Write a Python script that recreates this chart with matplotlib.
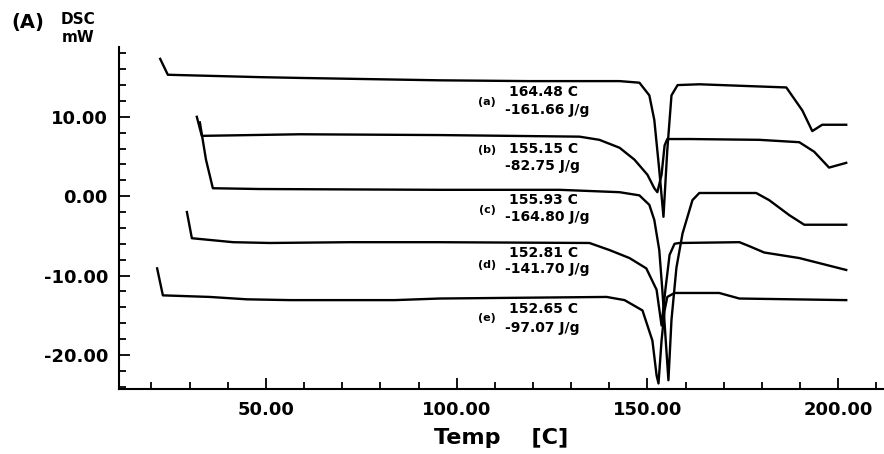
import matplotlib
matplotlib.use('Agg')
import matplotlib.pyplot as plt
from matplotlib.ticker import MultipleLocator, FormatStrFormatter

plt.rcParams['font.family'] = ['DejaVu Sans']
plt.rcParams['font.weight'] = 'bold'

# curves: temperature (C) and heat flow (mW)
temp_a = [22.3, 24.3, 48.4, 58.9, 95.5, 119.1, 142.7, 147.9, 150.5, 151.8, 153.1, 154.2,
          155.2, 156.3, 157.9, 163.6, 186.4, 190.6, 193.2, 195.8, 202.1]
dsc_a = [17.3, 15.3, 15.0, 14.9, 14.6, 14.5, 14.5, 14.3, 12.7, 9.6, 3.3, -2.6,
         5.8, 12.7, 14.0, 14.1, 13.7, 10.8, 8.2, 9.0, 9.0]

temp_b = [31.9, 33.2, 58.9, 95.5, 132.2, 137.4, 142.7, 146.6, 150.0, 151.8, 152.6, 153.7,
          154.5, 155.2, 161.0, 179.3, 189.8, 193.7, 197.6, 202.1]
dsc_b = [10.0, 7.6, 7.8, 7.7, 7.5, 7.1, 6.1, 4.6, 2.7, 1.0, 0.5, 2.7,
         6.4, 7.2, 7.2, 7.1, 6.8, 5.6, 3.6, 4.2]

temp_c = [32.7, 34.3, 36.1, 48.4, 95.5, 127.0, 142.7, 147.9, 150.5, 151.8, 153.1, 153.9,
          154.7, 155.5, 156.3, 157.6, 159.2, 161.8, 163.6, 178.5, 181.9, 187.2, 191.1, 202.1]
dsc_c = [9.3, 4.6, 1.0, 0.9, 0.8, 0.8, 0.5, 0.1, -1.1, -3.0, -6.8, -11.8,
         -17.5, -23.2, -15.6, -9.0, -4.7, -0.5, 0.4, 0.4, -0.5, -2.4, -3.6, -3.6]

temp_d = [29.3, 30.6, 41.4, 51.0, 72.0, 94.8, 134.8, 140.1, 145.3, 149.7, 152.4, 153.7,
          154.7, 155.8, 157.1, 158.4, 174.1, 176.7, 180.6, 189.8, 202.1]
dsc_d = [-2.0, -5.3, -5.8, -5.9, -5.8, -5.8, -5.9, -6.8, -7.8, -9.1, -11.8, -16.3,
         -11.8, -7.4, -6.0, -5.9, -5.8, -6.3, -7.1, -7.8, -9.3]

temp_e = [21.5, 23.0, 35.3, 45.0, 56.3, 83.8, 95.5, 139.3, 144.0, 148.7, 151.3, 152.4,
          152.9, 153.7, 154.5, 155.2, 157.1, 168.8, 174.1, 202.1]
dsc_e = [-9.1, -12.5, -12.7, -13.0, -13.1, -13.1, -12.9, -12.7, -13.1, -14.4, -18.2, -22.6,
         -23.6, -18.2, -14.4, -12.7, -12.2, -12.2, -12.9, -13.1]

tags = ['(a)', '(b)', '(c)', '(d)', '(e)']
peaks = ['164.48 C', '155.15 C', '155.93 C', '152.81 C', '152.65 C']
enthalpies = ['-161.66 J/g', '-82.75 J/g', '-164.80 J/g', '-141.70 J/g', '-97.07 J/g']
tag_y = [11.9, 5.8, -1.8, -8.7, -15.4]
peak_y = [13.1, 6.0, -0.5, -7.2, -14.2]
en_y = [10.8, 3.8, -2.6, -9.2, -16.6]

fig = plt.figure(figsize=(8.84, 4.54), dpi=100)
ax = fig.add_axes([0.1346, 0.1432, 0.8654, 0.7533])

for t, d in [(temp_a, dsc_a), (temp_b, dsc_b), (temp_c, dsc_c), (temp_d, dsc_d), (temp_e, dsc_e)]:
    ax.plot(t, d, color='black', lw=1.7)

for i in range(len(tags)):
    ax.text(108.0, tag_y[i], tags[i], fontsize=8, ha='center', va='center')
    ax.text(113.8, peak_y[i], peaks[i], fontsize=10, ha='left', va='center')
    ax.text(112.8, en_y[i], enthalpies[i], fontsize=10, ha='left', va='center')

ax.set_xlim(11.5, 212)
ax.set_ylim(-24.3, 18.8)
ax.xaxis.set_major_locator(MultipleLocator(50))
ax.xaxis.set_minor_locator(MultipleLocator(10))
ax.yaxis.set_major_locator(MultipleLocator(10))
ax.yaxis.set_minor_locator(MultipleLocator(2))
ax.xaxis.set_major_formatter(FormatStrFormatter('%.2f'))
ax.yaxis.set_major_formatter(FormatStrFormatter('%.2f'))
ax.tick_params(which='both', direction='in', width=1.3, labelsize=13)
ax.tick_params(axis='y', pad=8)
ax.tick_params(axis='x', pad=9)
ax.tick_params(which='major', length=8)
ax.tick_params(which='minor', length=5)
for lab in ax.get_xticklabels() + ax.get_yticklabels():
    lab.set_fontweight('bold')

for side in ['top', 'right']:
    ax.spines[side].set_visible(False)
for side in ['left', 'bottom']:
    ax.spines[side].set_linewidth(1.5)

ax.set_xlabel('Temp    [C]', fontsize=16, fontweight='bold', labelpad=6)

fig.text(0.013, 0.951, '(A)', fontsize=14, fontweight='bold', va='center')
fig.text(0.069, 0.957, 'DSC', fontsize=11, fontweight='bold', va='center')
fig.text(0.070, 0.917, 'mW', fontsize=11, fontweight='bold', va='center')

fig.savefig('out.png', dpi=100)
